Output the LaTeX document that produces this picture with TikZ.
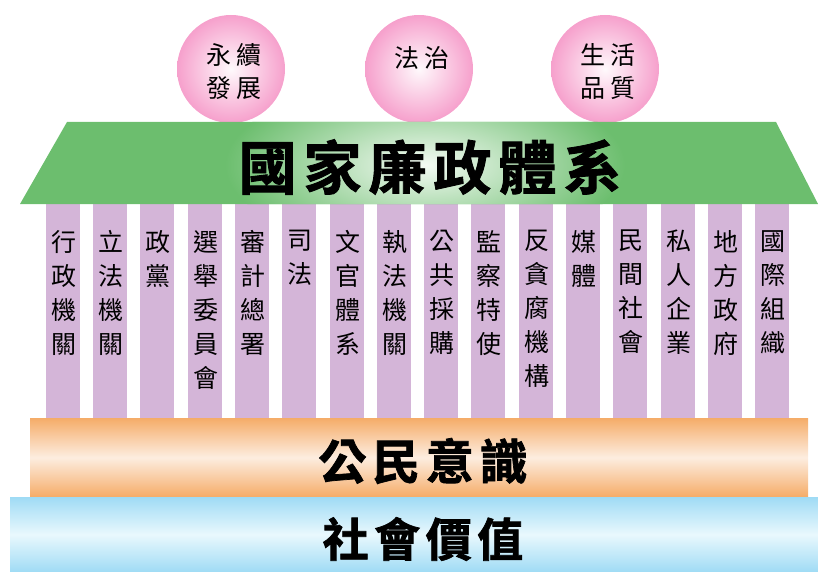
\documentclass[tikz,border=0pt]{standalone}
\usepackage{fontspec}
\newfontfamily\cjk[LetterSpace=8]{Noto Sans CJK TC}
\newfontfamily\cjkwide[LetterSpace=20]{Noto Sans CJK TC}
\newfontfamily\cjkb[LetterSpace=12,FakeBold=1.5]{Noto Sans CJK TC Bold}
\definecolor{roofgreen}{HTML}{6CBE6E}
\definecolor{colpurple}{HTML}{D4B5D8}
\definecolor{ballpink}{HTML}{F6A0CC}
\definecolor{barorange}{HTML}{F5AC68}
\definecolor{barlight}{HTML}{FDEDE0}
\definecolor{barblue}{HTML}{9FDBF5}
\definecolor{bluelight}{HTML}{E9F8FD}
\tikzset{
  ball/.style={circle, minimum size=108pt, inner sep=0pt, shading=radial, inner color=ballpink!6, outer color=ballpink},
  balltext/.style={font=\cjkwide\fontsize{25}{33}\selectfont, align=center, inner sep=0pt},
  colbox/.style={fill=colpurple, minimum width=34pt, minimum height=214pt, inner sep=0pt, anchor=north},
  coltext/.style={font=\cjk\fontsize{25}{34}\selectfont, align=center, inner sep=0pt, anchor=north},
  bigtext/.style={font=\cjkb\fontsize{#1}{#1}\selectfont, inner sep=0pt},
}
\begin{document}
\begin{tikzpicture}[x=1pt,y=-1pt]
\useasboundingbox (0,0) rectangle (818,572);
% balls
\node[ball] (b1) at (231,69) {};
\node[ball] (b2) at (419,69) {};
\node[ball] (b3) at (605,69) {};
\node[balltext] (t1) at (234,72) {永續\\發展};
\node[balltext] (t2) at (422,58) {法治};
\node[balltext] (t3) at (608,72) {生活\\品質};
% columns
\foreach \t [count=\i from 0] in {行\\政\\機\\關, 立\\法\\機\\關, 政\\黨, 選\\舉\\委\\員\\會, 審\\計\\總\\署, 司\\法, 文\\官\\體\\系, 執\\法\\機\\關, 公\\共\\採\\購, 監\\察\\特\\使, 反\\貪\\腐\\機\\構, 媒\\體, 民\\間\\社\\會, 私\\人\\企\\業, 地\\方\\政\\府, 國\\際\\組\\織}{
  \node[colbox] (col\i) at ({62.7+\i*47.3},204) {};
  \node[coltext] (ct\i) at ([xshift=1pt,yshift=-26pt]col\i.north) {\t};
}
% roof
\fill[roofgreen] (67,122) -- (776,122) -- (818,204) -- (20,204) -- cycle;
\begin{scope}
\clip (67,122) -- (776,122) -- (818,204) -- (20,204) -- cycle;
\shade[inner color=white!92!roofgreen, outer color=roofgreen] (425,165) ellipse (200 and 85);
\end{scope}
\node[bigtext=58] (roof) at (430,167) {國家廉政體系};
% orange bar
\shade[top color=barorange, bottom color=barorange, middle color=barlight] (30,418) rectangle (808,497);
\node[bigtext=48] (civic) at (423,461) {公民意識};
% blue bar
\shade[top color=barblue, bottom color=barblue, middle color=bluelight] (10,497) rectangle (818,572);
\node[bigtext=46] (social) at (423,539) {社會價值};
\end{tikzpicture}
\end{document}
